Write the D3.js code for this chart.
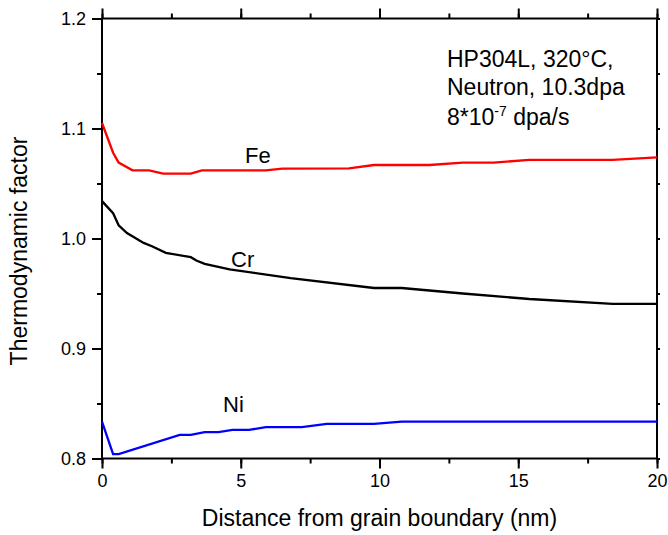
<!DOCTYPE html>
<html>
<head>
<meta charset="utf-8">
<script src="https://cdn.jsdelivr.net/npm/d3@7"></script>
<style>
  body { margin: 0; background: #fff; }
  svg text { font-family: "Liberation Sans", Arial, sans-serif; fill: #000; }
</style>
</head>
<body>
<div class="chart"></div>
<script>
// values
var xFe = [0, 0.4, 0.6, 1.1, 1.7, 2.2, 3.2, 3.6, 5.9, 6.5, 8.9, 9.8, 11.8, 13, 14.1, 15.4, 18.4, 20];
var yFe = [1.105, 1.078, 1.069, 1.062, 1.062, 1.059, 1.059, 1.062, 1.062, 1.0635, 1.0638, 1.0668, 1.0668, 1.069, 1.069, 1.0714, 1.0714, 1.0738];

var xCr = [0, 0.4, 0.6, 0.9, 1.5, 1.8, 2.3, 3.2, 3.4, 3.7, 4.6, 6.8, 9.8, 10.8, 13, 15.4, 18.4, 20];
var yCr = [1.034, 1.023, 1.012, 1.005, 0.996, 0.993, 0.987, 0.983, 0.980, 0.977, 0.972, 0.964, 0.955, 0.955, 0.950, 0.945, 0.9405, 0.9405];

var xNi = [0, 0.4, 0.6, 2.8, 3.2, 3.7, 4.2, 4.7, 5.3, 5.9, 7.2, 8.1, 9.8, 10.8, 20];
var yNi = [0.8335, 0.804, 0.804, 0.8215, 0.8215, 0.824, 0.824, 0.826, 0.826, 0.8285, 0.8285, 0.8315, 0.8315, 0.8335, 0.8335];

var xTicks = [0, 5, 10, 15, 20];
var yTicks = [0.8, 0.9, 1.0, 1.1, 1.2];
var seriesNames = ["Fe", "Cr", "Ni"];
var seriesColors = ["#ff0000", "#000000", "#0000ff"];

function draw() {
  var W = 668, H = 535;
  var mL = 102, mR = 657, mT = 18.5, mB = 458.5;

  var svg = d3.select('.chart').append('svg')
    .attr('width', W)
    .attr('height', H);

  var x = d3.scaleLinear().domain([0, 20]).range([mL, mR]);
  var y = d3.scaleLinear().domain([0.8, 1.2]).range([mB, mT]);

  function axisStyle(g) {
    g.select('.domain').remove();
    g.selectAll('line').attr('stroke', '#000').attr('stroke-width', 2);
    g.attr('font-size', null).attr('font-family', null);
    g.selectAll('text').style('font-size', '18px');
  }

  var xMinor = d3.range(0, 20.01, 2.5);
  var yMinor = d3.range(0.8, 1.2001, 0.05);

  // minor ticks first, then major with labels
  svg.append('g').attr('transform', 'translate(0,' + mB + ')')
    .call(d3.axisBottom(x).tickValues(xMinor).tickSize(5).tickFormat(''))
    .call(axisStyle);
  svg.append('g').attr('transform', 'translate(0,' + mB + ')')
    .call(d3.axisBottom(x).tickValues(xTicks).tickSize(10).tickPadding(6).tickFormat(d3.format('d')))
    .call(axisStyle);

  svg.append('g').attr('transform', 'translate(0,' + mT + ')')
    .call(d3.axisTop(x).tickValues(xMinor).tickSize(5).tickFormat(''))
    .call(axisStyle);
  svg.append('g').attr('transform', 'translate(0,' + mT + ')')
    .call(d3.axisTop(x).tickValues(xTicks).tickSize(10).tickFormat(''))
    .call(axisStyle);

  svg.append('g').attr('transform', 'translate(' + mL + ',0)')
    .call(d3.axisLeft(y).tickValues(yMinor).tickSize(5).tickFormat(''))
    .call(axisStyle);
  svg.append('g').attr('transform', 'translate(' + mL + ',0)')
    .call(d3.axisLeft(y).tickValues(yTicks).tickSize(10).tickPadding(6).tickFormat(d3.format('.1f')))
    .call(axisStyle);

  svg.append('g').attr('transform', 'translate(' + mR + ',0)')
    .call(d3.axisRight(y).tickValues(yMinor).tickSize(3).tickFormat(''))
    .call(axisStyle);

  // frame
  svg.append('rect')
    .attr('x', mL).attr('y', mT)
    .attr('width', mR - mL).attr('height', mB - mT)
    .attr('fill', 'none').attr('stroke', '#000').attr('stroke-width', 2);

  // curves
  var line = d3.line()
    .x(function(d){ return x(d[0]); })
    .y(function(d){ return y(d[1]); });

  var allX = [xFe, xCr, xNi];
  var allY = [yFe, yCr, yNi];
  for (var s = 0; s < 3; s++) {
    svg.append('path')
      .datum(d3.zip(allX[s], allY[s]))
      .attr('d', line)
      .attr('fill', 'none')
      .attr('stroke', seriesColors[s])
      .attr('stroke-width', 2.3);
  }

  // curve labels
  var labelPos = [[245, 163], [231, 267], [223, 412]];
  for (var i = 0; i < 3; i++) {
    svg.append('text')
      .attr('x', labelPos[i][0]).attr('y', labelPos[i][1])
      .style('font-size', '22px')
      .text(seriesNames[i]);
  }

  // annotation
  var note = svg.append('g').style('font-size', '23px');
  note.append('text').attr('x', 447).attr('y', 67).text('HP304L, 320\u00B0C,');
  note.append('text').attr('x', 447).attr('y', 95).text('Neutron, 10.3dpa');
  var t3 = note.append('text').attr('x', 447).attr('y', 125);
  t3.append('tspan').text('8*10');
  t3.append('tspan').attr('dy', -9).style('font-size', '14px').text('-7');
  t3.append('tspan').attr('dy', 9).text(' dpa/s');

  // axis titles
  svg.append('text')
    .attr('x', (mL + mR) / 2).attr('y', 526)
    .attr('text-anchor', 'middle')
    .style('font-size', '23px')
    .text('Distance from grain boundary (nm)');

  svg.append('text')
    .attr('transform', 'translate(27,251) rotate(-90)')
    .attr('text-anchor', 'middle')
    .style('font-size', '23px')
    .text('Thermodynamic factor');
}

draw();
</script>
</body>
</html>
